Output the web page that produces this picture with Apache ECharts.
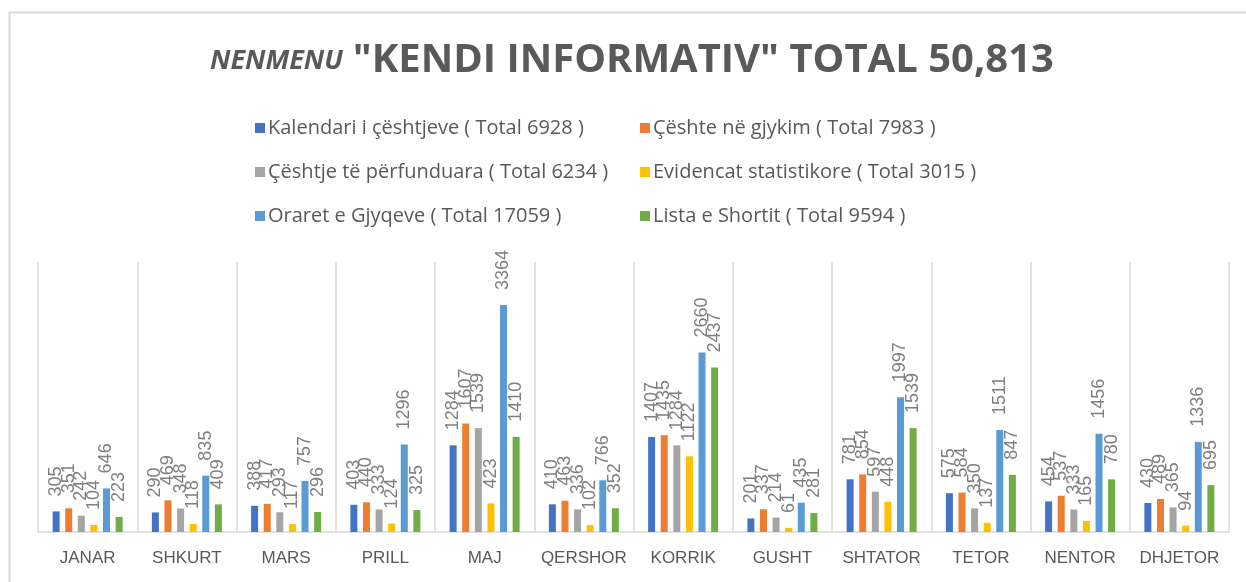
<!DOCTYPE html>
<html>
<head>
<meta charset="utf-8">
<script src="https://cdn.jsdelivr.net/npm/echarts@6/dist/echarts.min.js"></script>
<style>
html,body{margin:0;padding:0;background:#fff;}
#chart{width:1246px;height:582px;}
</style>
</head>
<body>
<div id="chart"></div>
<script>
const months = ['JANAR','SHKURT','MARS','PRILL','MAJ','QERSHOR','KORRIK','GUSHT','SHTATOR','TETOR','NENTOR','DHJETOR'];
const seriesNames = [
  'Kalendari i çështjeve ( Total 6928 )',
  'Çështe në gjykim ( Total 7983 )',
  'Çështje të përfunduara ( Total 6234 )',
  'Evidencat statistikore ( Total 3015 )',
  'Oraret e Gjyqeve ( Total 17059 )',
  'Lista e Shortit ( Total 9594 )'
];
const kalendari = [305, 290, 388, 403, 1284, 410, 1407, 201, 781, 575, 454, 430];
const neGjykim = [351, 469, 417, 440, 1607, 463, 1435, 337, 854, 584, 537, 489];
const perfunduara = [242, 348, 293, 333, 1539, 336, 1284, 214, 597, 350, 333, 365];
const evidencat = [104, 118, 117, 124, 423, 102, 1122, 61, 448, 137, 165, 94];
const oraret = [646, 835, 757, 1296, 3364, 766, 2660, 435, 1997, 1511, 1456, 1336];
const shortit = [223, 409, 296, 325, 1410, 352, 2437, 281, 1539, 847, 780, 695];
const titleItalic = 'NENMENU';
const titleMain = '"KENDI INFORMATIV" TOTAL 50,813';

const colors = ['#4472C4','#ED7D31','#A5A5A5','#FFC000','#5B9BD5','#70AD47'];
const allData = [kalendari, neGjykim, perfunduara, evidencat, oraret, shortit];

const chart = echarts.init(document.getElementById('chart'), null, {renderer: 'canvas'});

const legendPos = [
  {left: 255, top: 118}, {left: 640, top: 118},
  {left: 255, top: 162}, {left: 640, top: 162},
  {left: 255, top: 206}, {left: 640, top: 206}
];
const legends = seriesNames.map((n, i) => ({
  data: [n],
  left: legendPos[i].left,
  top: legendPos[i].top,
  padding: 0,
  orient: 'horizontal',
  icon: 'rect',
  itemWidth: 10,
  itemHeight: 10,
  itemGap: 0,
  selectedMode: false,
  textStyle: {color: '#595959', fontSize: 20, fontFamily: 'Open Sans', lineHeight: 20, padding: [0,0,0,-2]}
}));

const series = allData.map((d, i) => ({
  name: seriesNames[i],
  type: 'bar',
  data: d,
  barWidth: 7,
  barGap: '80%',
  itemStyle: {color: colors[i]},
  label: {
    show: true,
    position: 'top',
    rotate: 90,
    align: 'left',
    verticalAlign: 'middle',
    distance: 15,
    color: '#7f7f7f',
    fontSize: 18,
    fontFamily: 'Liberation Sans'
  }
}));

chart.setOption({
  animation: false,
  color: colors,
  backgroundColor: '#ffffff',
  title: {
    text: '{a|' + titleItalic + '}  {b|' + titleMain + '}',
    left: 205,
    top: 36,
    textStyle: {
      rich: {
        a: {fontFamily: 'Open Sans', fontStyle: 'italic', fontWeight: 'bold', fontSize: 27, color: '#595959'},
        b: {fontFamily: 'Open Sans', fontWeight: 'bold', fontSize: 40, color: '#595959'}
      }
    }
  },
  legend: legends,
  graphic: [{
    type: 'rect',
    silent: true,
    shape: {x: 9.5, y: 12.5, width: 1400, height: 800},
    style: {fill: 'none', stroke: '#d9d9d9', lineWidth: 2}
  }],
  grid: {left: 38, right: 17, top: 262, bottom: 50, containLabel: false},
  xAxis: {
    type: 'category',
    data: months,
    axisTick: {show: false},
    axisLine: {lineStyle: {color: '#d9d9d9', width: 1.5}},
    splitLine: {show: true, interval: 0, lineStyle: {color: '#d9d9d9', width: 1.5}},
    axisLabel: {interval: 0, color: '#595959', fontSize: 17, fontFamily: 'Liberation Sans', margin: 18}
  },
  yAxis: {
    type: 'value',
    min: 0,
    max: 4000,
    show: false,
    splitLine: {show: false}
  },
  series: series
});
</script>
</body>
</html>
